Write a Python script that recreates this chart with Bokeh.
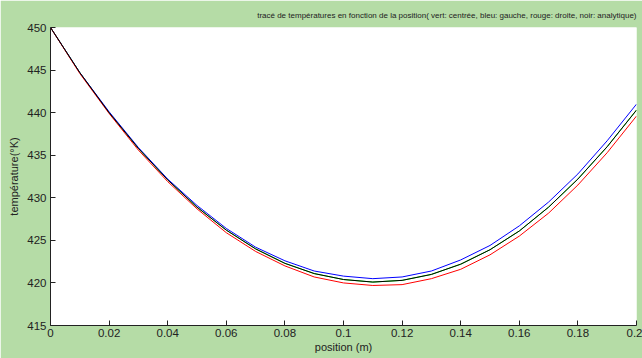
from bokeh.plotting import figure
from bokeh.models import FixedTicker, Range1d
from bokeh.embed import file_html
from bokeh.resources import INLINE

# position along the bar (m)
position = [0.00, 0.01, 0.02, 0.03, 0.04, 0.05, 0.06, 0.07, 0.08, 0.09, 0.10,
            0.11, 0.12, 0.13, 0.14, 0.15, 0.16, 0.17, 0.18, 0.19, 0.20]

# temperatures (K) for each scheme
t_centree = [450.0, 444.7, 440.0, 435.8, 432.1, 428.9, 426.2, 424.0, 422.3, 421.1, 420.4,
             420.1, 420.3, 421.0, 422.2, 423.9, 426.1, 428.9, 432.2, 436.0, 440.3]
t_gauche = [450.0, 444.7, 440.1, 435.9, 432.2, 429.1, 426.4, 424.2, 422.6, 421.4, 420.8,
            420.5, 420.7, 421.4, 422.7, 424.4, 426.7, 429.5, 432.8, 436.7, 441.0]
t_droite = [450.0, 444.6, 439.9, 435.6, 431.9, 428.7, 425.9, 423.7, 422.0, 420.7, 420.0,
            419.7, 419.8, 420.5, 421.6, 423.3, 425.5, 428.2, 431.5, 435.3, 439.6]
t_analytique = [450.0, 444.7, 440.0, 435.8, 432.1, 428.9, 426.2, 424.0, 422.3, 421.1, 420.4,
                420.1, 420.3, 421.0, 422.2, 423.9, 426.1, 428.9, 432.2, 436.0, 440.3]

x_ticks = [0, 0.02, 0.04, 0.06, 0.08, 0.1, 0.12, 0.14, 0.16, 0.18, 0.2]
x_tick_labels = ["0", "0.02", "0.04", "0.06", "0.08", "0.1", "0.12", "0.14", "0.16", "0.18", "0.2"]
y_ticks = [415, 420, 425, 430, 435, 440, 445, 450]

title_text = ("tracé de températures en fonction de la position( vert: centrée, "
              "bleu: gauche, rouge: droite, noir: analytique)")

BG = "#b5dca6"
FONT = "Liberation Sans"
TXT = "#222222"

p = figure(width=642, height=358, output_backend="svg", toolbar_location=None,
           x_range=Range1d(0, 0.2), y_range=Range1d(415, 450),
           min_border_left=50, min_border_right=6, min_border_top=27, min_border_bottom=33)

p.background_fill_color = "white"
p.border_fill_color = BG
p.outline_line_color = None
p.xgrid.visible = False
p.ygrid.visible = False

p.title.text = title_text
p.title.align = "right"
p.title.text_font = FONT
p.title.text_font_size = "8px"
p.title.text_font_style = "normal"
p.title.text_color = TXT
p.title.offset = 0
p.title.standoff = 15

for ax in (p.xaxis[0], p.yaxis[0]):
    ax.axis_line_color = "#222222"
    ax.major_tick_line_color = "#222222"
    ax.major_tick_in = 5
    ax.major_tick_out = 0
    ax.minor_tick_line_color = None
    ax.major_label_text_font = FONT
    ax.major_label_text_font_size = "11.5px"
    ax.major_label_text_color = TXT
    ax.axis_label_text_font = FONT
    ax.axis_label_text_font_size = "11px"
    ax.axis_label_text_font_style = "normal"
    ax.axis_label_text_color = TXT

p.xaxis.ticker = FixedTicker(ticks=x_ticks)
p.xaxis.major_label_overrides = {t: s for t, s in zip(x_ticks, x_tick_labels)}
p.xaxis.major_label_standoff = 3
p.xaxis.axis_label = "position (m)"
p.xaxis.axis_label_standoff = 1

p.yaxis.ticker = FixedTicker(ticks=y_ticks)
p.yaxis.major_label_standoff = 4
p.yaxis.axis_label = "température(°K)"
p.yaxis.axis_label_standoff = 4

p.line(position, t_centree, line_color="#00ff00", line_width=1)
p.line(position, t_gauche, line_color="#0000ff", line_width=1)
p.line(position, t_droite, line_color="#ff0000", line_width=1)
p.line(position, t_analytique, line_color="black", line_width=1)

open("out.html", "w").write(file_html(p, INLINE))
